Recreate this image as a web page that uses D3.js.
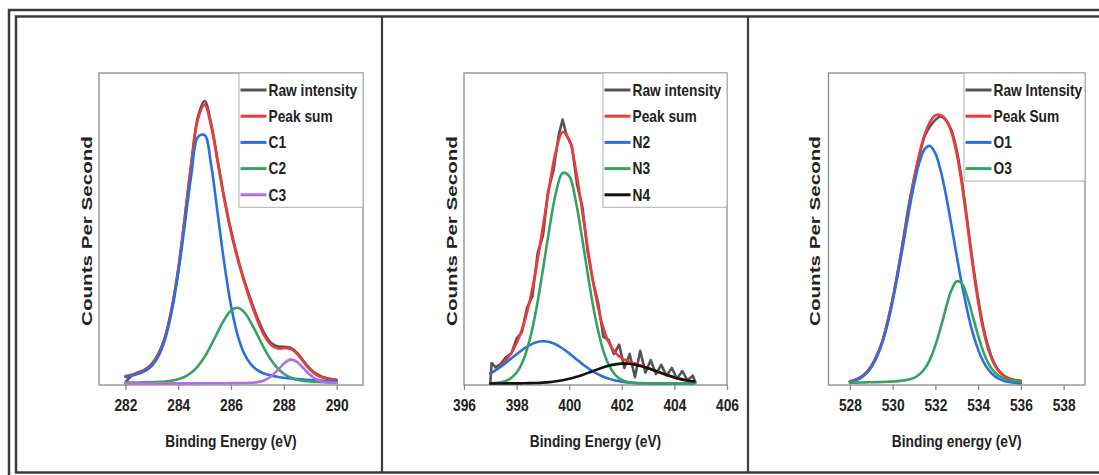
<!DOCTYPE html>
<html>
<head>
<meta charset="utf-8">
<script src="https://cdn.jsdelivr.net/npm/d3@7"></script>
<style>
  body { margin: 0; background: #fff; }
  svg { display: block; font-family: "Liberation Sans", Arial, sans-serif; }
</style>
</head>
<body>
<div id="chart"></div>
<script>
// XPS fits: C 1s, N 1s, O 1s  (intensity in arbitrary units, 0-100 of plot height)

// --- C 1s ---
const cEnergy = [282,282.25,282.5,282.75,283,283.25,283.5,283.75,284,284.25,284.5,284.75,285,285.25,285.5,285.75,286,286.25,286.5,286.75,287,287.25,287.5,287.75,288,288.25,288.5,288.75,289,289.25,289.5,289.75,290];
const cRaw     = [0.3,2.6,3.6,4.5,6.3,9.6,14.9,24.1,36.5,53.6,71.2,86.0,91.0,83.6,71.6,59.6,49.3,40.6,33.2,26.9,21.2,16.4,13.2,12.0,11.8,11.5,9.9,7.2,4.7,3.0,2.0,1.5,1.1];
const cPeakSum = [2.36,2.80,3.42,4.41,6.12,9.26,14.78,23.83,36.78,53.28,70.9,85.2,89.8,82.8,71.06,59.07,48.69,40.11,32.71,26.12,20.33,15.57,12.55,11.30,11.33,11.18,9.57,6.90,4.40,2.71,1.83,1.40,1.19];
const cC1      = [2.09,2.50,3.08,4.02,5.68,8.73,14.1,22.9,35.4,51.1,67.4,79.4,80.0,70.2,54.4,38.4,25.1,15.6,9.6,6.2,4.3,3.2,2.6,2.15,1.84,1.59,1.39,1.22,1.08,0.96,0.87,0.78,0.71];
const cC2      = [0.25,0.28,0.32,0.37,0.42,0.51,0.65,0.90,1.35,2.15,3.50,5.60,8.58,12.4,16.6,20.6,23.5,24.4,22.96,19.7,15.6,11.4,7.8,5.03,3.12,1.92,1.22,0.83,0.61,0.49,0.41,0.35,0.31];
const cC3      = [0.02,0.02,0.02,0.02,0.02,0.02,0.03,0.03,0.03,0.03,0.03,0.04,0.04,0.05,0.06,0.07,0.09,0.11,0.15,0.22,0.43,0.97,2.15,4.12,6.37,7.67,6.96,4.85,2.71,1.26,0.55,0.27,0.17];

// --- N 1s ---
const nEnergy = [397,397.25,397.5,397.75,398,398.25,398.5,398.75,399,399.25,399.5,399.75,400,400.25,400.5,400.75,401,401.25,401.5,401.75,402,402.25,402.5,402.75,403,403.25,403.5,403.75,404,404.25,404.5,404.75];
const nPeakSum = [3.27,4.68,6.58,9.20,12.95,18.50,26.55,37.38,50.47,63.79,75.0,81.0,78.6,68.9,55.32,41.08,28.6,19.28,13.31,9.91,8.11,7.11,6.40,5.71,4.96,4.16,3.36,2.62,1.95,1.39,0.96,0.63];
const nN2      = [3.21,4.49,6.01,7.69,9.41,11.03,12.36,13.25,13.6,13.35,12.54,11.26,9.68,7.97,6.27,4.72,3.40,2.34,1.55,0.97,0.59,0.34,0.19,0.10,0.05,0.02,0.01,0,0,0,0,0];
const nN3      = [0.06,0.19,0.56,1.49,3.51,7.42,14.1,23.97,36.6,50.0,61.6,67.8,66.8,58.7,46.3,32.85,20.9,11.9,6.08,2.79,1.14,0.42,0.14,0.04,0.01,0,0,0,0,0,0,0];
const nN4      = [0,0,0.01,0.02,0.03,0.05,0.09,0.16,0.27,0.44,0.69,1.04,1.50,2.07,2.75,3.51,4.30,5.04,5.68,6.15,6.38,6.35,6.07,5.57,4.90,4.14,3.35,2.61,1.95,1.39,0.96,0.63];
// raw N 1s is noisy, read on its own grid
const nRawEnergy = [397,397.05,397.2,397.4,397.6,397.8,398,398.2,398.4,398.6,398.8,399,399.2,399.4,399.6,399.75,399.9,400.1,400.3,400.5,400.7,400.9,401.1,401.3,401.5,401.7,401.9,402.1,402.3,402.5,402.7,402.9,403.1,403.3,403.5,403.7,403.9,404.1,404.3,404.5,404.7,404.8];
const nRaw       = [0,6.6,5.2,6.3,8.5,9.6,14.5,16.5,24.5,28.0,42.0,47.5,62.0,68.5,80.0,85.0,80.0,76.5,64.0,57.0,42.5,33.0,26.0,15.0,14.0,9.5,12.5,5.0,9.5,2.0,10.5,3.5,7.5,3.0,6.0,2.5,5.0,1.5,4.0,1.0,2.5,0.3];

// --- O 1s ---
const oEnergy = [528,528.25,528.5,528.75,529,529.25,529.5,529.75,530,530.25,530.5,530.75,531,531.25,531.5,531.75,532,532.25,532.5,532.75,533,533.25,533.5,533.75,534,534.25,534.5,534.75,535,535.25,535.5,535.75,536];
const oRaw     = [0.6,1.1,2.0,3.3,5.6,8.9,13.0,19.6,27.3,36.4,46.6,57.2,66.0,73.4,79.6,82.8,84.9,86.0,84.7,81.6,75.0,64.8,52.0,38.9,27.4,17.9,11.2,6.6,3.9,2.3,1.5,1.0,0.8];
const oPeakSum = [0.73,1.22,2.05,3.41,5.56,8.77,13.27,19.34,27.03,36.05,45.93,56.14,65.7,73.95,80.21,84.27,86.35,86.5,84.9,81.0,73.9,63.7,50.9,37.8,26.3,17.05,10.5,6.24,3.68,2.24,1.46,1.02,0.78];
const oO1      = [0.49,0.95,1.75,3.08,5.19,8.35,12.8,18.8,26.4,35.3,45.0,54.9,63.9,71.1,75.5,76.5,74.1,68.5,60.5,51.0,41.0,31.6,23.2,16.2,10.9,6.95,4.24,2.47,1.37,0.73,0.37,0.18,0.08];
const oO3      = [0.24,0.27,0.30,0.33,0.37,0.42,0.47,0.54,0.63,0.75,0.93,1.24,1.80,2.85,4.71,7.77,12.25,18.0,24.4,30.0,32.9,32.1,27.7,21.6,15.4,10.1,6.26,3.77,2.31,1.51,1.09,0.84,0.70];

const cTicks = [282,284,286,288,290];
const nTicks = [396,398,400,402,404,406];
const oTicks = [528,530,532,534,536,538];

const colRaw = '#555555', colSum = '#ee3a3a', colBlue = '#2a6fe0', colGreen = '#35a35f', colPurple = '#b46ee2', colBlack = '#111111';

const W = 1099, H = 475;
const plotTop = 73, plotBottom = 385;
const textScale = 0.86;   // glyphs in the source are narrow and tall

const svg = d3.select('#chart').append('svg')
  .attr('width', W)
  .attr('height', H);

// outer double frame and panel dividers
const frame = svg.append('g').attr('stroke', '#3c3c3c').attr('fill', 'none');
frame.append('path').attr('stroke-width', 2.5).attr('d', `M9,${H} V10 H${W}`);
frame.append('path').attr('stroke-width', 2.5).attr('d', `M${W},16.5 H16 V472.5 H${W}`);
frame.append('line').attr('stroke-width', 2.2).attr('x1', 382).attr('x2', 382).attr('y1', 16.5).attr('y2', 472.5);
frame.append('line').attr('stroke-width', 2.2).attr('x1', 748).attr('x2', 748).attr('y1', 16.5).attr('y2', 472.5);

const panels = [
  {
    left: 99, right: 363, domain: [281, 291], ticks: cTicks,
    legendX: 239, title: 'Binding Energy (eV)', yLabelX: 86.7,
    series: [
      { name: 'Raw intensity', x: cEnergy, y: cRaw, color: colRaw },
      { name: 'Peak sum', x: cEnergy, y: cPeakSum, color: colSum },
      { name: 'C1', x: cEnergy, y: cC1, color: colBlue },
      { name: 'C2', x: cEnergy, y: cC2, color: colGreen },
      { name: 'C3', x: cEnergy, y: cC3, color: colPurple }
    ]
  },
  {
    left: 464, right: 727, domain: [396, 406], ticks: nTicks,
    legendX: 603, title: 'Binding Energy (eV)', yLabelX: 452,
    series: [
      { name: 'Raw intensity', x: nRawEnergy, y: nRaw, color: colRaw, linear: true },
      { name: 'Peak sum', x: nEnergy, y: nPeakSum, color: colSum },
      { name: 'N2', x: nEnergy, y: nN2, color: colBlue },
      { name: 'N3', x: nEnergy, y: nN3, color: colGreen },
      { name: 'N4', x: nEnergy, y: nN4, color: colBlack }
    ]
  },
  {
    left: 828.5, right: 1085, domain: [527, 539], ticks: oTicks,
    legendX: 964, title: 'Binding energy (eV)', yLabelX: 815,
    series: [
      { name: 'Raw Intensity', x: oEnergy, y: oRaw, color: colRaw },
      { name: 'Peak Sum', x: oEnergy, y: oPeakSum, color: colSum },
      { name: 'O1', x: oEnergy, y: oO1, color: colBlue },
      { name: 'O3', x: oEnergy, y: oO3, color: colGreen }
    ]
  }
];

const y = d3.scaleLinear().domain([-0.5, 100]).range([plotBottom, plotTop]);

// narrow bold label placed with its anchor at (px, py)
function label(g, px, py, str, anchor) {
  g.append('text')
    .attr('transform', `translate(${px},${py}) scale(${textScale},1)`)
    .attr('text-anchor', anchor || 'start')
    .attr('font-size', 16)
    .attr('font-weight', 'bold')
    .attr('fill', '#222')
    .text(str);
}

panels.forEach(p => {
  const x = d3.scaleLinear().domain(p.domain).range([p.left, p.right]);
  const g = svg.append('g');

  // plot box
  g.append('rect')
    .attr('x', p.left).attr('y', plotTop)
    .attr('width', p.right - p.left).attr('height', plotBottom - plotTop)
    .attr('fill', '#fff').attr('stroke', '#8a8a8a').attr('stroke-width', 1.3);

  // x axis
  const ax = g.append('g')
    .attr('transform', `translate(0,${plotBottom})`)
    .call(d3.axisBottom(x).tickValues(p.ticks).tickSize(5).tickPadding(10).tickFormat(d3.format('d')));
  ax.select('.domain').remove();
  ax.selectAll('line').attr('stroke', '#8a8a8a').attr('stroke-width', 1.3);
  ax.selectAll('text')
    .attr('fill', '#222')
    .attr('font-size', 16)
    .attr('font-weight', 'bold')
    .attr('font-family', '"Liberation Sans", Arial, sans-serif')
    .attr('transform', `scale(${textScale},1)`);

  label(g, (p.left + p.right) / 2, 447, p.title, 'middle');

  // y label, stretched along its length like the source
  g.append('text')
    .attr('transform', `translate(${p.yLabelX + 5},${(plotTop + plotBottom) / 2 + 2}) rotate(-90) scale(1.47,1)`)
    .attr('text-anchor', 'middle')
    .attr('font-size', 14)
    .attr('font-weight', 'bold')
    .attr('fill', '#222')
    .text('Counts Per Second');

  // curves
  p.series.forEach(s => {
    const pts = s.x.map((e, i) => [e, s.y[i]]);
    const line = d3.line()
      .x(d => x(d[0]))
      .y(d => y(d[1]))
      .curve(s.linear ? d3.curveLinear : d3.curveCatmullRom);
    g.append('path')
      .datum(pts)
      .attr('fill', 'none')
      .attr('stroke', s.color)
      .attr('stroke-width', 2.6)
      .attr('stroke-linejoin', 'round')
      .attr('stroke-linecap', 'round')
      .attr('d', line);
  });

  // legend
  const rowH = 26.2;
  const legBottom = 90 + rowH * (p.series.length - 1) + 12.5;
  g.append('rect')
    .attr('x', p.legendX).attr('y', plotTop)
    .attr('width', p.right - p.legendX).attr('height', legBottom - plotTop)
    .attr('fill', '#fff').attr('stroke', '#b0b0b0').attr('stroke-width', 1);
  p.series.forEach((s, i) => {
    const ry = 90 + rowH * i;
    g.append('line')
      .attr('x1', p.legendX + 1.5).attr('x2', p.legendX + 27.5)
      .attr('y1', ry).attr('y2', ry)
      .attr('stroke', s.color).attr('stroke-width', 3);
    label(g, p.legendX + 29.5, ry + 5.8, s.name);
  });
});
</script>
</body>
</html>
